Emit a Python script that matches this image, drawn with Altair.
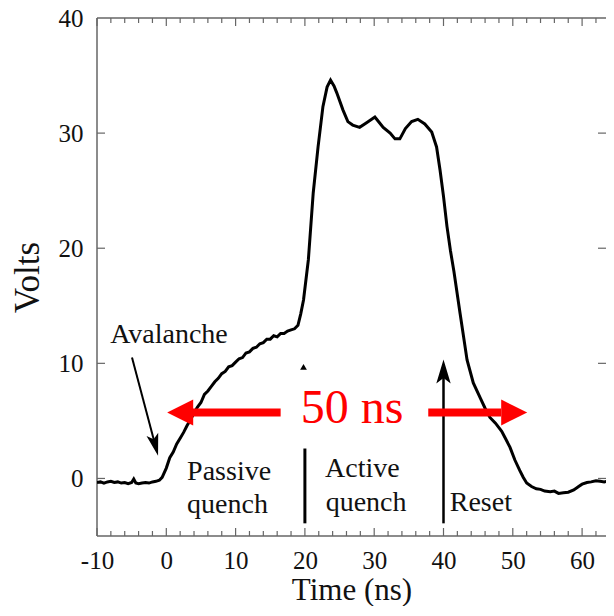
import altair as alt
import pandas as pd

# ---------------- data ----------------
time_ns = [
    -10, -9.5, -9, -8.5, -8, -7.5, -7, -6.5, -6, -5.5, -5, -4.7, -4.4, -4, -3.5, -3, -2.5, -2, -1.5, -1, -0.6,
    0, 0.5, 1, 1.5, 2, 2.5, 3, 3.5, 4, 4.5, 5, 5.5, 6, 6.5, 7, 7.5, 8, 8.5, 9, 9.5,
    10, 10.5, 11, 11.5, 12, 12.5, 13, 13.5, 14, 14.5, 15, 15.5, 16, 16.5, 17, 17.5, 18, 18.5, 19,
    19.4, 19.8, 20.5, 21.2, 21.9, 22.6, 23.2, 23.7, 24.2, 24.6, 25.5, 26.2, 26.9, 27.9, 28.9,
    30.1, 30.5, 31.3, 32.3, 33.0, 33.7, 34.5, 35.4, 36.3, 37.3, 38.3, 39.0, 39.5,
    40.0, 40.5, 41.0, 41.5, 42.4, 43.4, 44.3, 45.3, 46.0, 46.7, 47.5, 48.4, 49.0, 49.6,
    50.3, 51.0, 51.5, 52.0, 52.7, 53.4, 54.0, 54.6, 55.4, 56.0, 56.6, 57.3, 58.0, 58.8, 59.5,
    60.0, 60.7, 61.3, 62.0, 62.6, 63.2, 64.0, 64.5,
]
volts = [
    -0.35, -0.3, -0.4, -0.3, -0.25, -0.35, -0.3, -0.4, -0.35, -0.45, -0.35, -0.05, -0.4, -0.45, -0.4, -0.35, -0.4, -0.3, -0.25, -0.15, 0.1,
    0.9, 1.8, 2.3, 3.0, 3.5, 4.0, 4.6, 5.1, 5.7, 6.2, 6.6, 7.3, 7.6, 8.0, 8.4, 8.7, 9.1, 9.3, 9.7, 9.8,
    10.1, 10.4, 10.5, 10.9, 11.0, 11.3, 11.4, 11.7, 11.8, 12.1, 12.1, 12.4, 12.3, 12.6, 12.6, 12.8, 12.9, 13.0, 13.3,
    14.3, 15.5, 19.0, 24.8, 28.8, 32.3, 34.0, 34.6, 34.1, 33.5, 32.0, 31.0, 30.7, 30.5, 30.9,
    31.4, 31.1, 30.5, 30.0, 29.5, 29.5, 30.4, 31.0, 31.2, 30.8, 30.1, 28.8, 26.8,
    24.5, 21.9, 19.8, 18.0, 14.3, 10.3, 8.3, 7.0, 6.1, 5.3, 4.8, 4.1, 3.4, 2.7,
    1.6, 0.7, 0.1, -0.4, -0.7, -0.9, -0.95, -1.1, -1.15, -1.1, -1.3, -1.25, -1.2, -1.0, -0.7,
    -0.5, -0.35, -0.3, -0.2, -0.25, -0.3, -0.2, -0.3,
]

x_tick_values = [-10, 0, 10, 20, 30, 40, 50, 60]
x_minor_values = [-8, -6, -4, -2, 2, 4, 6, 8, 12, 14, 16, 18, 22, 24, 26, 28,
                  32, 34, 36, 38, 42, 44, 46, 48, 52, 54, 56, 58, 62]
y_tick_values = [0, 10, 20, 30, 40]
y_inner_ticks = [0, 10, 20, 30]

# annotation texts (label, time, volts)
note_labels = ["Avalanche", "Passive", "quench", "Active", "quench", "Reset"]
note_t = [-8.1, 3.0, 3.0, 22.9, 23.0, 40.9]
note_v = [11.8, -0.1, -3.0, 0.1, -2.8, -2.8]

span_label = "50 ns"
span_t, span_v = 26.8, 4.8
span_arrow_v = 5.73
span_left = [3.0, 16.5]      # shaft of left red arrow
span_right = [37.8, 48.3]    # shaft of right red arrow
span_left_head = 2.0
span_right_head = 50.2

# black marker lines
aval_line = [(-4.95, 10.5), (-1.6, 2.9)]
marker20 = [20, 2.6, -3.9]
marker40 = [40, -3.9, 9.4]
marker40_head = 9.3
small_tri = (19.8, 9.7)

# ---------------- layout ----------------
PX_X = 6.93          # pixels per ns in the reference
X_MIN = -10
W, H = 509, 518
X_MAX = X_MIN + W / PX_X
Y_MIN, Y_MAX = -5, 40
PX_Y = H / (Y_MAX - Y_MIN)
FONT = "Liberation Serif"
FRAME = "#666"

xs = alt.Scale(domain=[X_MIN, X_MAX], nice=False, zero=False)
ys = alt.Scale(domain=[Y_MIN, Y_MAX], nice=False, zero=False)

X_AXIS = alt.Axis(
    values=x_tick_values, title="Time (ns)", ticks=False, domain=False, grid=False,
    labelPadding=12, labelFlush=False, titleBaseline="alphabetic", titleY=63, titleFontSize=31,
    labelExpr="datum.value < 0 ? '-' + (-datum.value) : '' + datum.value")
Y_AXIS = alt.Axis(
    values=y_tick_values, title="Volts", ticks=False, domain=False, grid=False,
    labelPadding=14, labelFlush=False, titlePadding=13, titleFontSize=35)


def X():
    return alt.X("t:Q", scale=xs, axis=X_AXIS)


def Y():
    return alt.Y("v:Q", scale=ys, axis=Y_AXIS)


curve_df = pd.DataFrame({"t": time_ns, "v": volts})

main = alt.Chart(curve_df).mark_line(color="black", strokeWidth=3, clip=True).encode(x=X(), y=Y())

# frame (left, top, bottom; the right edge lies outside the picture)
frame_df = pd.DataFrame([
    {"t": X_MIN, "v": Y_MIN, "t2": X_MAX, "v2": Y_MIN},
    {"t": X_MIN, "v": Y_MAX, "t2": X_MAX, "v2": Y_MAX},
    {"t": X_MIN, "v": Y_MIN, "t2": X_MIN, "v2": Y_MAX},
])
frame = alt.Chart(frame_df).mark_rule(color=FRAME, strokeWidth=1.5).encode(
    x=X(), y=Y(), x2="t2:Q", y2="v2:Q")

# inward tick marks
maj_x, min_x, maj_y = 8, 5, 8
tick_rows = []
for v in x_tick_values:
    tick_rows.append({"t": v, "v": Y_MIN, "t2": v, "v2": Y_MIN + maj_x / PX_Y})
    tick_rows.append({"t": v, "v": Y_MAX, "t2": v, "v2": Y_MAX - maj_x / PX_Y})
for v in x_minor_values:
    tick_rows.append({"t": v, "v": Y_MIN, "t2": v, "v2": Y_MIN + min_x / PX_Y})
    tick_rows.append({"t": v, "v": Y_MAX, "t2": v, "v2": Y_MAX - min_x / PX_Y})
for v in y_inner_ticks:
    tick_rows.append({"t": X_MIN, "v": v, "t2": X_MIN + maj_y / PX_X, "v2": v})
    tick_rows.append({"t": X_MAX, "v": v, "t2": X_MAX - maj_y / PX_X, "v2": v})
ticks = alt.Chart(pd.DataFrame(tick_rows)).mark_rule(color=FRAME, strokeWidth=1.2).encode(
    x=X(), y=Y(), x2="t2:Q", y2="v2:Q")

# black marker lines
lines_df = pd.DataFrame([
    {"t": aval_line[0][0], "v": aval_line[0][1], "t2": aval_line[1][0], "v2": aval_line[1][1], "w": 2},
    {"t": marker20[0], "v": marker20[1], "t2": marker20[0], "v2": marker20[2], "w": 3},
    {"t": marker40[0], "v": marker40[1], "t2": marker40[0], "v2": marker40[2], "w": 2.5},
])
black_lines = alt.Chart(lines_df).mark_rule(color="black").encode(
    x=X(), y=Y(), x2="t2:Q", y2="v2:Q", strokeWidth=alt.StrokeWidth("w:Q", scale=None))

aval_head = alt.Chart(pd.DataFrame({"t": [aval_line[1][0]], "v": [aval_line[1][1]]})).mark_point(
    shape="M 0 1 L -0.55 -1 L 0 -0.55 L 0.55 -1 Z", filled=True, color="black", opacity=1,
    size=22 * 22, angle=345).encode(x=X(), y=Y())

up_head = alt.Chart(pd.DataFrame({"t": [marker40[0]], "v": [marker40_head]})).mark_point(
    shape="M 0 -1 L 0.6 1 L 0 0.55 L -0.6 1 Z", filled=True, color="black", opacity=1,
    size=24 * 24).encode(x=X(), y=Y())

tri = alt.Chart(pd.DataFrame({"t": [small_tri[0]], "v": [small_tri[1]]})).mark_point(
    shape="triangle-up", filled=True, color="black", opacity=1, size=45).encode(x=X(), y=Y())

# red span arrows
red_df = pd.DataFrame([
    {"t": span_left[0], "t2": span_left[1], "v": span_arrow_v},
    {"t": span_right[0], "t2": span_right[1], "v": span_arrow_v},
])
red_shafts = alt.Chart(red_df).mark_rule(color="#ff0000", strokeWidth=8).encode(
    x=X(), x2="t2:Q", y=Y())
red_left_head = alt.Chart(pd.DataFrame({"t": [span_left_head], "v": [span_arrow_v]})).mark_point(
    shape="M -1 0 L 1 -1 L 1 1 Z", filled=True, color="#ff0000", opacity=1, size=26 * 26).encode(
    x=X(), y=Y())
red_right_head = alt.Chart(pd.DataFrame({"t": [span_right_head], "v": [span_arrow_v]})).mark_point(
    shape="M 1 0 L -1 -1 L -1 1 Z", filled=True, color="#ff0000", opacity=1, size=26 * 26).encode(
    x=X(), y=Y())

span_text = alt.Chart(pd.DataFrame({"t": [span_t], "v": [span_v], "s": [span_label]})).mark_text(
    font=FONT, fontSize=48, color="#ff0000", align="center", baseline="alphabetic").encode(
    x=X(), y=Y(), text="s:N")

notes = alt.Chart(pd.DataFrame({"t": note_t, "v": note_v, "s": note_labels})).mark_text(
    font=FONT, fontSize=28, color="#111", align="left", baseline="alphabetic").encode(
    x=X(), y=Y(), text="s:N")

chart = alt.layer(
    frame, ticks, main, black_lines, aval_head, up_head, tri, notes,
    red_shafts, red_left_head, red_right_head, span_text,
).properties(
    width=W, height=H,
    autosize=alt.AutoSizeParams(type="none"),
    padding={"left": 89, "top": 10, "right": 0, "bottom": 70},
).configure_view(
    stroke=None
).configure_axis(
    labelFont=FONT, labelFontSize=25, labelColor="#111",
    titleFont=FONT, titleFontWeight="normal", titleColor="#111",
)

chart.save("out.html", embed_options={"renderer": "svg", "actions": False})
